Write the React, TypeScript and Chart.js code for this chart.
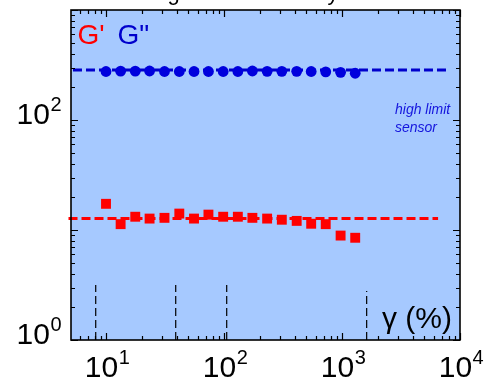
import React, { useEffect, useRef } from 'react';
import { Chart, registerables } from 'chart.js';

Chart.register(...registerables);

// strain amplitude γ (%)
const gamma = [10, 13.3, 17.7, 23.4, 31.3, 41.8, 55.7, 73.8, 98.4, 131, 174, 232, 309, 413, 548, 728, 973, 1294];
// storage modulus G'
const gPrime = [17.3, 11.3, 13.2, 12.7, 12.9, 14.1, 12.7, 13.8, 13.2, 13.2, 12.9, 12.7, 12.4, 12.1, 11.4, 11.3, 8.9, 8.5];
// loss modulus G"
const gDoublePrime = [276, 278, 278, 279, 276, 276, 276, 276, 276, 276, 279, 277, 277, 277, 276, 274, 271, 266];

// reference levels (dashed lines)
const gPrimeLevel = 12.7;
const gDoublePrimeLevel = 285;
const gPrimeLineX = [4.81, 6520];
const gDoublePrimeLineX = [5.25, 8220];

// vertical dashed markers
const markerX = [8.18, 38.97, 105.4, 1618];
const markerTop = [3.16, 3.16, 3.16, 2.79];

// axis ranges and labelled decades
const X_MIN = 5.05;
const X_MAX = 10000;
const Y_MIN = 1;
const Y_MAX = 1000;
const xLabelExponents = ['1', '2', '3', '4'];
const yLabelExponents = ['0', '2'];

const titleText = 'Strain range: low sensitivity';
const xAxisTitle = 'γ (%)';
const gPrimeLabel = "G'";
const gDoublePrimeLabel = 'G"';
const noteLines = ['high limit', 'sensor'];

const FONT = '"Liberation Sans", Arial, sans-serif';

function logTicks(min: number, max: number) {
  const out: { v: number; major: boolean }[] = [];
  for (let d = Math.floor(Math.log10(min)); d <= Math.ceil(Math.log10(max)); d++) {
    for (let m = 1; m <= 9; m++) {
      const v = m * Math.pow(10, d);
      if (v >= min * 0.999 && v <= max * 1.001) out.push({ v, major: m === 1 });
    }
  }
  return out;
}

function drawPow(ctx: CanvasRenderingContext2D, exp: string, x: number, baseline: number, align: 'center' | 'right') {
  ctx.font = `30px ${FONT}`;
  const wMain = ctx.measureText('10').width;
  ctx.font = `20px ${FONT}`;
  const wSup = ctx.measureText(exp).width;
  const total = wMain + wSup;
  const start = align === 'center' ? x - total / 2 : x - total;
  ctx.textAlign = 'left';
  ctx.textBaseline = 'alphabetic';
  ctx.fillStyle = '#000';
  ctx.font = `30px ${FONT}`;
  ctx.fillText('10', start, baseline);
  ctx.font = `20px ${FONT}`;
  ctx.fillText(exp, start + wMain + 0.5, baseline - 13);
}

const framePlugin = {
  id: 'frame',
  beforeDatasetsDraw(chart: any) {
    const { ctx, chartArea: a } = chart;
    ctx.save();
    ctx.fillStyle = '#A6C9FF';
    ctx.fillRect(a.left, a.top, a.right - a.left, a.bottom - a.top);
    ctx.restore();
  },
  afterDraw(chart: any) {
    const { ctx, chartArea: a } = chart;
    const xs = chart.scales.x;
    const ys = chart.scales.y;
    ctx.save();
    // ticks
    ctx.strokeStyle = '#000';
    ctx.lineWidth = 1.2;
    ctx.beginPath();
    for (const t of logTicks(X_MIN, X_MAX)) {
      const px = Math.round(xs.getPixelForValue(t.v)) + 0.5;
      const len = t.major ? 7 : 4;
      ctx.moveTo(px, a.bottom);
      ctx.lineTo(px, a.bottom - len);
      ctx.moveTo(px, a.top);
      ctx.lineTo(px, a.top + len);
    }
    for (const t of logTicks(Y_MIN, Y_MAX)) {
      const py = Math.round(ys.getPixelForValue(t.v)) + 0.5;
      const len = t.major ? 7 : 4;
      ctx.moveTo(a.left, py);
      ctx.lineTo(a.left + len, py);
      ctx.moveTo(a.right, py);
      ctx.lineTo(a.right - len, py);
    }
    ctx.stroke();
    // frame
    ctx.lineWidth = 1.6;
    ctx.strokeRect(a.left, a.top, a.right - a.left, a.bottom - a.top);

    // tick labels
    for (const e of xLabelExponents) {
      drawPow(ctx, e, xs.getPixelForValue(Math.pow(10, Number(e))) + 1, 376.5, 'center');
    }
    for (const e of yLabelExponents) {
      drawPow(ctx, e, 61, ys.getPixelForValue(Math.pow(10, Number(e))) + 3.5, 'right');
    }

    // title (cut by top edge)
    ctx.fillStyle = '#000';
    ctx.font = `22px ${FONT}`;
    ctx.textAlign = 'left';
    ctx.fillText(titleText, 72, -0.5);

    // legend letters
    ctx.font = `28px ${FONT}`;
    ctx.fillStyle = '#FF0000';
    ctx.fillText(gPrimeLabel, 77.5, 43.5);
    ctx.fillStyle = '#0000CC';
    ctx.fillText(gDoublePrimeLabel, 117.5, 43.5);

    // axis title
    ctx.fillStyle = '#000';
    ctx.font = `30px ${FONT}`;
    ctx.textAlign = 'right';
    ctx.fillText(xAxisTitle, 452, 328);

    // note
    ctx.fillStyle = '#1515DD';
    ctx.font = `italic 14px ${FONT}`;
    ctx.textAlign = 'left';
    ctx.fillText(noteLines[0], 395, 113.5);
    ctx.fillText(noteLines[1], 395, 131.5);
    ctx.restore();
  },
};

export default function App() {
  const ref = useRef<HTMLCanvasElement | null>(null);
  useEffect(() => {
    document.body.style.margin = '0';
    const canvas = ref.current;
    if (!canvas) return;
    const markerSets = markerX.map((mx, i) => ({
      type: 'line' as const,
      data: [
        { x: mx, y: Y_MIN },
        { x: mx, y: markerTop[i] },
      ],
      showLine: true,
      borderColor: '#000',
      borderWidth: 1.2,
      borderDash: [8, 4],
      pointRadius: 0,
      clip: false as any,
    }));
    const chart = new Chart(canvas, {
      type: 'scatter',
      data: {
        datasets: [
          {
            label: 'G"',
            data: gamma.map((g, i) => ({ x: g, y: gDoublePrime[i] })),
            pointStyle: 'circle',
            pointRadius: 5.4,
            backgroundColor: '#0000DD',
            borderColor: '#0000DD',
            borderWidth: 0,
          },
          {
            label: "G'",
            data: gamma.map((g, i) => ({ x: g, y: gPrime[i] })),
            pointStyle: 'rect',
            pointRadius: 7,
            backgroundColor: '#FF0000',
            borderColor: '#FF0000',
            borderWidth: 0,
          },
          {
            type: 'line',
            data: gDoublePrimeLineX.map((x) => ({ x, y: gDoublePrimeLevel })),
            showLine: true,
            borderColor: '#0000CC',
            borderWidth: 3,
            borderDash: [9, 4],
            pointRadius: 0,
            clip: false as any,
          },
          {
            type: 'line',
            data: gPrimeLineX.map((x) => ({ x, y: gPrimeLevel })),
            showLine: true,
            borderColor: '#FF0000',
            borderWidth: 3,
            borderDash: [9, 4],
            pointRadius: 0,
            clip: false as any,
          },
          ...markerSets,
        ] as any,
      },
      options: {
        animation: false,
        responsive: false,
        devicePixelRatio: 1,
        layout: { padding: { left: 71, top: 10, right: 29, bottom: 40 } },
        plugins: { legend: { display: false }, tooltip: { enabled: false }, title: { display: false } },
        scales: {
          x: { type: 'logarithmic', min: X_MIN, max: X_MAX, display: false },
          y: { type: 'logarithmic', min: Y_MIN, max: Y_MAX, display: false },
        },
      },
      plugins: [framePlugin],
    });
    return () => chart.destroy();
  }, []);
  return <canvas ref={ref} width={489} height={380} style={{ display: 'block' }} />;
}
